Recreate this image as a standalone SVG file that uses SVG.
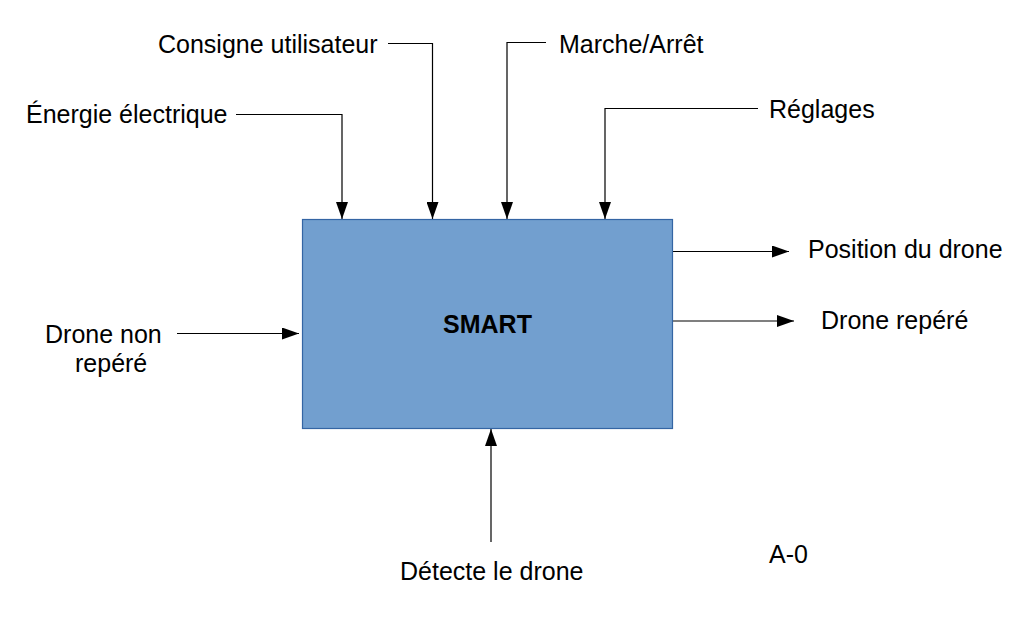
<svg xmlns="http://www.w3.org/2000/svg" width="1019" height="617" viewBox="0 0 1019 617">
<style>
text { font-family: "Liberation Sans", Arial, sans-serif; font-size: 25px; fill: #000; }
.bold { font-weight: bold; }
.conn { fill: none; stroke: #000; stroke-width: 1.2; }
.box { fill: #729fcf; stroke: #3465a4; stroke-width: 1.2; }
</style>
<defs>
<marker id="arrow" markerUnits="userSpaceOnUse" markerWidth="18" markerHeight="12" refX="17" refY="6" orient="auto">
<path d="M0,0 L17,6 L0,12 z" fill="#000"/>
</marker>
</defs>
<rect width="1019" height="617" fill="#fff"/>
<g id="connectors">
<polyline class="conn" points="236,114.5 342,114.5 342,219" marker-end="url(#arrow)"/>
<polyline class="conn" points="388,43.5 432.5,43.5 432.5,219" marker-end="url(#arrow)"/>
<polyline class="conn" points="546,42.5 507,42.5 507,219" marker-end="url(#arrow)"/>
<polyline class="conn" points="758,108.5 605,108.5 605,219" marker-end="url(#arrow)"/>
<line class="conn" x1="672" y1="251.5" x2="789" y2="251.5" marker-end="url(#arrow)"/>
<line class="conn" x1="672" y1="321" x2="794" y2="321" marker-end="url(#arrow)"/>
<line class="conn" x1="177" y1="333.5" x2="299" y2="333.5" marker-end="url(#arrow)"/>
<line class="conn" x1="491" y1="542" x2="491" y2="429" marker-end="url(#arrow)"/>
</g>
<g id="node-smart">
<rect class="box" x="302.5" y="219.5" width="370" height="209"/>
<text class="bold" x="487.5" y="333" text-anchor="middle">SMART</text>
</g>
<g id="label-energie"><text x="26" y="123">Énergie électrique</text></g>
<g id="label-consigne"><text x="158" y="53">Consigne utilisateur</text></g>
<g id="label-marche"><text x="559" y="53">Marche/Arrêt</text></g>
<g id="label-reglages"><text x="769" y="118">Réglages</text></g>
<g id="label-position"><text x="808" y="258">Position du drone</text></g>
<g id="label-repere"><text x="821" y="329">Drone repéré</text></g>
<g id="label-nonrepere"><text x="45" y="343"><tspan x="45">Drone non</tspan><tspan x="75" dy="29">repéré</tspan></text></g>
<g id="label-detecte"><text x="400" y="580">Détecte le drone</text></g>
<g id="label-a0"><text x="769" y="563">A-0</text></g>
</svg>
